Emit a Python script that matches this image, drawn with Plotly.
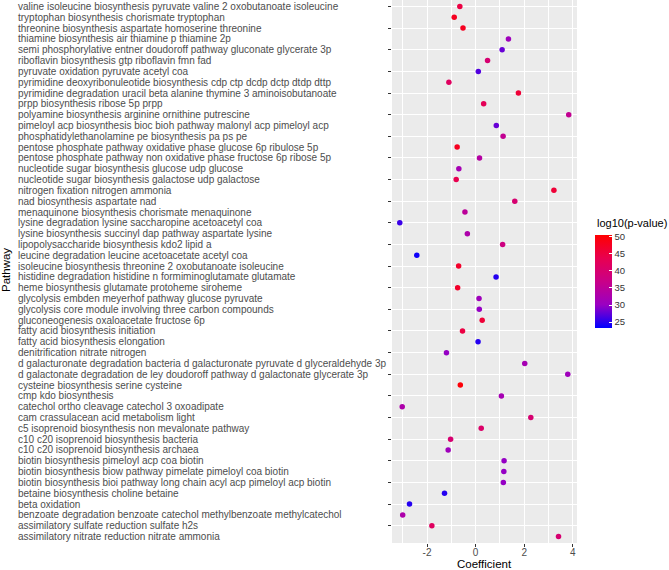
import plotly.graph_objects as go

# Pathways listed top -> bottom as displayed
pathways = [
    "valine isoleucine biosynthesis pyruvate valine 2 oxobutanoate isoleucine",
    "tryptophan biosynthesis chorismate tryptophan",
    "threonine biosynthesis aspartate homoserine threonine",
    "thiamine biosynthesis air thiamine p thiamine 2p",
    "semi phosphorylative entner doudoroff pathway gluconate glycerate 3p",
    "riboflavin biosynthesis gtp riboflavin fmn fad",
    "pyruvate oxidation pyruvate acetyl coa",
    "pyrimidine deoxyribonuleotide biosynthesis cdp ctp dcdp dctp dtdp dttp",
    "pyrimidine degradation uracil beta alanine thymine 3 aminoisobutanoate",
    "prpp biosynthesis ribose 5p prpp",
    "polyamine biosynthesis arginine ornithine putrescine",
    "pimeloyl acp biosynthesis bioc bioh pathway malonyl acp pimeloyl acp",
    "phosphatidylethanolamine pe biosynthesis pa ps pe",
    "pentose phosphate pathway oxidative phase glucose 6p ribulose 5p",
    "pentose phosphate pathway non oxidative phase fructose 6p ribose 5p",
    "nucleotide sugar biosynthesis glucose udp glucose",
    "nucleotide sugar biosynthesis galactose udp galactose",
    "nitrogen fixation nitrogen ammonia",
    "nad biosynthesis aspartate nad",
    "menaquinone biosynthesis chorismate menaquinone",
    "lysine degradation lysine saccharopine acetoacetyl coa",
    "lysine biosynthesis succinyl dap pathway aspartate lysine",
    "lipopolysaccharide biosynthesis kdo2 lipid a",
    "leucine degradation leucine acetoacetate acetyl coa",
    "isoleucine biosynthesis threonine 2 oxobutanoate isoleucine",
    "histidine degradation histidine n formiminoglutamate glutamate",
    "heme biosynthesis glutamate protoheme siroheme",
    "glycolysis embden meyerhof pathway glucose pyruvate",
    "glycolysis core module involving three carbon compounds",
    "gluconeogenesis oxaloacetate fructose 6p",
    "fatty acid biosynthesis initiation",
    "fatty acid biosynthesis elongation",
    "denitrification nitrate nitrogen",
    "d galacturonate degradation bacteria d galacturonate pyruvate d glyceraldehyde 3p",
    "d galactonate degradation de ley doudoroff pathway d galactonate glycerate 3p",
    "cysteine biosynthesis serine cysteine",
    "cmp kdo biosynthesis",
    "catechol ortho cleavage catechol 3 oxoadipate",
    "cam crassulacean acid metabolism light",
    "c5 isoprenoid biosynthesis non mevalonate pathway",
    "c10 c20 isoprenoid biosynthesis bacteria",
    "c10 c20 isoprenoid biosynthesis archaea",
    "biotin biosynthesis pimeloyl acp coa biotin",
    "biotin biosynthesis biow pathway pimelate pimeloyl coa biotin",
    "biotin biosynthesis bioi pathway long chain acyl acp pimeloyl acp biotin",
    "betaine biosynthesis choline betaine",
    "beta oxidation",
    "benzoate degradation benzoate catechol methylbenzoate methylcatechol",
    "assimilatory sulfate reduction sulfate h2s",
    "assimilatory nitrate reduction nitrate ammonia",
]

coefficient = [
    -0.65, -0.88, -0.52, 1.35, 1.09, 0.49, 0.11, -1.10, 1.76, 0.33,
    3.83, 0.85, 1.13, -0.76, 0.16, -0.69, -0.80, 3.22, 1.61, -0.44,
    -3.12, -0.34, 1.11, -2.42, -0.70, 0.84, -0.74, 0.14, 0.15, 0.27,
    -0.54, 0.10, -1.20, 2.02, 3.79, -0.63, 1.06, -3.02, 2.27, 0.23,
    -1.03, -1.13, 1.17, 1.16, 1.14, -1.28, -2.72, -3.00, -1.80, 3.41,
]

log10_pvalue = [
    45, 48, 48, 31, 28, 40, 27, 42, 46, 43,
    36, 28, 36, 48, 34, 32, 44, 46, 40, 35,
    26, 33, 38, 24, 47, 25, 47, 31, 30, 46,
    45, 25, 30, 32, 31, 50, 32, 33, 40, 41,
    40, 31, 30, 30, 30, 25, 25, 33, 42, 40,
]

colorbar_ticks = [25, 30, 35, 40, 45, 50]

# geometry (pixels)
W, H = 669, 570
L, R, T, B = 392, 92, 0, 27
pw = W - L - R
ph = H - T - B

colorscale = [
    [0.0, "#0000FF"],
    [0.25, "#9A00C2"],
    [0.5, "#C90088"],
    [0.75, "#E80050"],
    [1.0, "#FF0000"],
]

fig = go.Figure()
fig.add_trace(go.Scatter(
    x=coefficient,
    y=pathways,
    mode="markers",
    marker=dict(
        size=5.5,
        color=log10_pvalue,
        colorscale=colorscale,
        cmin=23.4,
        cmax=50.7,
        line=dict(width=0),
        showscale=True,
        colorbar=dict(
            x=(595 - L) / pw, xanchor="left", xpad=0,
            y=1 - (281 - T) / ph, yanchor="middle", ypad=0,
            thickness=17, thicknessmode="pixels",
            len=93, lenmode="pixels",
            outlinewidth=0,
            tickvals=colorbar_ticks,
            ticks="inside", ticklen=3, tickcolor="white", tickwidth=1,
            tickfont=dict(family="Liberation Sans, Arial", size=9.5, color="#333333"),
        ),
    ),
    showlegend=False,
    hoverinfo="x+y",
))

font_family = "Liberation Sans, Arial, sans-serif"

annotations = []
for p in pathways:
    annotations.append(dict(
        x=(16 - L) / pw, xref="paper", xanchor="left",
        y=p, yref="y", yanchor="middle",
        text=p, showarrow=False,
        font=dict(family=font_family, size=10, color="#4D4D4D"),
    ))

annotations.append(dict(
    x=0.5, xref="paper", xanchor="center",
    y=-(564 - (T + ph)) / ph, yref="paper", yanchor="middle",
    text="Coefficient", showarrow=False,
    font=dict(family=font_family, size=11.5, color="black"),
))
annotations.append(dict(
    x=(6 - L) / pw, xref="paper", xanchor="center",
    y=1 - (270 - T) / ph, yref="paper", yanchor="middle",
    text="Pathway", showarrow=False, textangle=-90,
    font=dict(family=font_family, size=11.5, color="black"),
))
annotations.append(dict(
    x=(595 - L) / pw, xref="paper", xanchor="left",
    y=1 - (222.7 - T) / ph, yref="paper", yanchor="middle",
    text="log10(p-value)", showarrow=False,
    font=dict(family=font_family, size=11, color="black"),
))

fig.update_layout(
    width=W, height=H,
    margin=dict(l=L, r=R, t=T, b=B, autoexpand=False),
    paper_bgcolor="white",
    plot_bgcolor="#EBEBEB",
    font=dict(family=font_family),
    annotations=annotations,
    xaxis=dict(
        range=[-3.44, 4.17],
        tickmode="array",
        tickvals=[-2, 0, 2, 4],
        ticktext=["-2", "0", "2", "4"],
        ticks="outside", ticklen=3, tickcolor="#333333", tickwidth=1,
        ticklabelstandoff=-3,
        tickfont=dict(family=font_family, size=10, color="#4D4D4D"),
        showgrid=True, gridcolor="white", gridwidth=1.1,
        minor=dict(tickmode="array", tickvals=[-3, -1, 1, 3], showgrid=True,
                   gridcolor="white", gridwidth=0.55, ticks=""),
        zeroline=False, showline=False,
        automargin=False,
    ),
    yaxis=dict(
        type="category",
        categoryorder="array",
        categoryarray=pathways,
        range=[len(pathways) - 1 + 0.6, -0.6],
        showticklabels=False,
        ticks="outside", ticklen=3, tickcolor="#333333", tickwidth=1,
        showgrid=True, gridcolor="white", gridwidth=1.1,
        zeroline=False, showline=False,
        automargin=False,
    ),
)

fig.write_html(
    "out.html",
    config={"displayModeBar": False},
    post_script="document.body.style.margin='0';document.body.style.overflow='hidden';",
)
